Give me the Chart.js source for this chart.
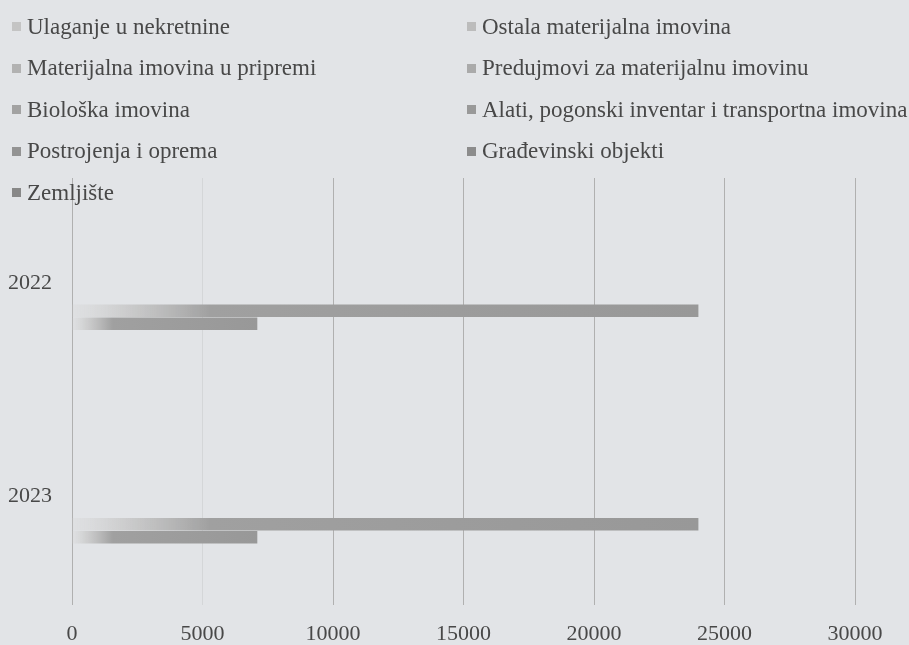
<!DOCTYPE html>
<html>
<head>
<meta charset="utf-8">
<script src="https://cdn.jsdelivr.net/npm/chart.js@4/dist/chart.umd.min.js"></script>
<style>
  html, body { margin: 0; padding: 0; background: #e2e4e7; }
  #wrap { position: relative; width: 909px; height: 645px; }
  #legend {
    position: absolute; left: 0; top: 6px; width: 909px;
    display: grid; grid-template-columns: 455px 454px; grid-auto-rows: 41.5px;
    font-family: "Liberation Serif", "DejaVu Serif", serif; font-size: 23px; color: #484848;
  }
  #legend div { display: flex; align-items: center; white-space: nowrap; padding-left: 12px; }
  #legend span.box { display: inline-block; width: 9px; height: 9px; margin-right: 6px; }
</style>
</head>
<body>
<div id="wrap">
  <canvas id="assetChart" width="909" height="645"></canvas>
  <div id="legend"></div>
</div>
<script>
// kategorije i serije (redoslijed odozgo prema dolje)
const years = ['2022', '2023'];
const seriesNames = [
    'Ulaganje u nekretnine',
    'Ostala materijalna imovina',
    'Materijalna imovina u pripremi',
    'Predujmovi za materijalnu imovinu',
    'Biološka imovina',
    'Alati, pogonski inventar i transportna imovina',
    'Postrojenja i oprema',
    'Građevinski objekti',
    'Zemljište'
];
const ulaganje = [0, 0];
const ostala = [0, 0];
const uPripremi = [0, 0];
const predujmovi = [0, 0];
const bioloska = [0, 0];
const alati = [0, 0];
const postrojenja = [24000, 24000];
const gradjevinski = [7100, 7100];
const zemljiste = [0, 0];
const xTicks = [0, 5000, 10000, 15000, 20000, 25000, 30000];

const seriesValues = [ulaganje, ostala, uPripremi, predujmovi, bioloska, alati, postrojenja, gradjevinski, zemljiste];
const markerColors = ['#c4c4c4', '#bcbcbc', '#b2b2b2', '#aaaaaa', '#a2a2a2', '#999999', '#939393', '#8c8c8c', '#888888'];

function barGradient(ctx) {
    const chart = ctx.chart;
    if (!chart.chartArea) return '#9a9a9a';
    const x = chart.scales.x;
    const x0 = x.getPixelForValue(0);
    const x1 = x.getPixelForValue(ctx.raw || 1);
    const g = chart.ctx.createLinearGradient(x0, 0, x1, 0);
    g.addColorStop(0, 'rgba(215,215,215,0.3)');
    g.addColorStop(0.08, 'rgba(200,200,200,0.8)');
    g.addColorStop(0.22, '#a0a0a0');
    g.addColorStop(1, '#989898');
    return g;
}

const textColor = '#484848';
const serif = '"Liberation Serif", "DejaVu Serif", serif';

const chart = new Chart(document.getElementById('assetChart').getContext('2d'), {
    type: 'bar',
    data: {
        labels: years,
        datasets: seriesNames.map((name, i) => ({
            label: name,
            data: seriesValues[i],
            backgroundColor: barGradient,
            borderWidth: 0,
            categoryPercentage: 0.548,
            barPercentage: 0.97
        }))
    },
    options: {
        indexAxis: 'y',
        responsive: false,
        animation: false,
        layout: { padding: { top: 178, right: 54, left: 0, bottom: 0 } },
        plugins: {
            legend: { display: false },
            tooltip: { enabled: false }
        },
        scales: {
            x: {
                min: 0,
                max: 30000,
                afterBuildTicks: (scale) => { scale.ticks = xTicks.map(v => ({ value: v })); },
                afterFit: (scale) => { scale.height = 40; },
                grid: {
                    color: (c) => c.tick && c.tick.value === 5000 ? 'rgba(170,170,170,0.25)' : '#b0b0b0',
                    lineWidth: 1,
                    drawTicks: false
                },
                border: { display: false },
                ticks: {
                    padding: 16,
                    color: textColor,
                    font: { family: serif, size: 22 },
                    callback: (v) => String(v)
                }
            },
            y: {
                afterFit: (scale) => { scale.width = 72; },
                grid: { display: false },
                border: { display: false },
                ticks: {
                    padding: 12,
                    labelOffset: -2,
                    color: textColor,
                    font: { family: serif, size: 22 }
                }
            }
        }
    }
});

// legenda u dva stupca
const legendEl = document.getElementById('legend');
chart.data.datasets.forEach((ds, i) => {
    const item = document.createElement('div');
    const box = document.createElement('span');
    box.className = 'box';
    box.style.background = markerColors[i];
    item.appendChild(box);
    item.appendChild(document.createTextNode(ds.label));
    legendEl.appendChild(item);
});
</script>
</body>
</html>
